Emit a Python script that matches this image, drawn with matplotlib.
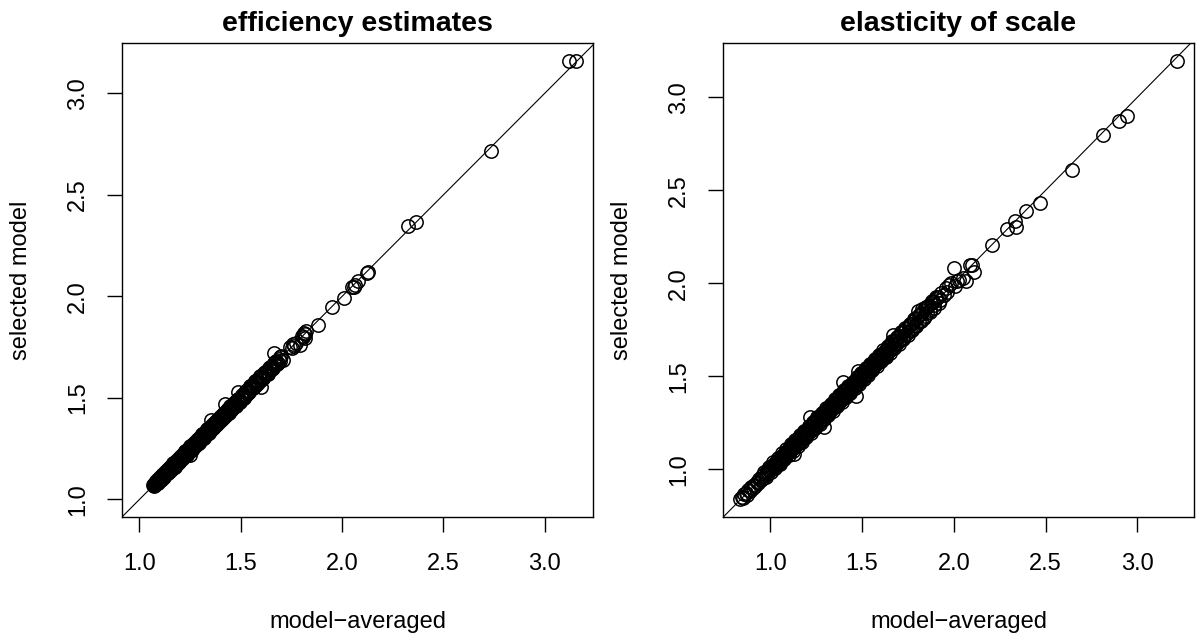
import numpy as np
import matplotlib.pyplot as plt

plt.rcParams['font.family'] = ['Liberation Sans', 'DejaVu Sans']

# (model-averaged, selected model) pairs for each panel
eff_pts = [
    (1.069, 1.071), (1.072, 1.076), (1.074, 1.073), (1.076, 1.080), (1.078, 1.077),
    (1.080, 1.084), (1.081, 1.079), (1.083, 1.086), (1.085, 1.082), (1.087, 1.090),
    (1.088, 1.085), (1.090, 1.093), (1.092, 1.089), (1.094, 1.097), (1.095, 1.092),
    (1.097, 1.100), (1.099, 1.096), (1.101, 1.104), (1.103, 1.099), (1.105, 1.108),
    (1.107, 1.103), (1.109, 1.112), (1.111, 1.107), (1.113, 1.117), (1.115, 1.111),
    (1.117, 1.121), (1.119, 1.114), (1.121, 1.125), (1.123, 1.118), (1.126, 1.131),
    (1.128, 1.124), (1.131, 1.136), (1.133, 1.128), (1.135, 1.140), (1.138, 1.133),
    (1.140, 1.146), (1.143, 1.138), (1.146, 1.151), (1.148, 1.141), (1.151, 1.156),
    (1.153, 1.147), (1.156, 1.160), (1.158, 1.152), (1.161, 1.166), (1.164, 1.157),
    (1.166, 1.171), (1.169, 1.163), (1.172, 1.176), (1.175, 1.168), (1.178, 1.183),
    (1.181, 1.173), (1.184, 1.189), (1.187, 1.180), (1.190, 1.195), (1.193, 1.186),
    (1.196, 1.201), (1.199, 1.192), (1.202, 1.210), (1.205, 1.198), (1.208, 1.214),
    (1.211, 1.204), (1.214, 1.219), (1.217, 1.209), (1.220, 1.226), (1.223, 1.215),
    (1.226, 1.232), (1.229, 1.221), (1.232, 1.236), (1.235, 1.227), (1.238, 1.243),
    (1.241, 1.232), (1.244, 1.250), (1.247, 1.218), (1.250, 1.255), (1.253, 1.246),
    (1.256, 1.262), (1.259, 1.251), (1.262, 1.268), (1.265, 1.257), (1.268, 1.273),
    (1.271, 1.263), (1.274, 1.280), (1.277, 1.270), (1.280, 1.285), (1.283, 1.275),
    (1.286, 1.291), (1.289, 1.281), (1.292, 1.298), (1.295, 1.287), (1.298, 1.303),
    (1.301, 1.293), (1.304, 1.309), (1.307, 1.299), (1.310, 1.316), (1.313, 1.305),
    (1.316, 1.321), (1.319, 1.311), (1.322, 1.328), (1.325, 1.316), (1.328, 1.333),
    (1.331, 1.322), (1.334, 1.339), (1.337, 1.328), (1.340, 1.345), (1.343, 1.335),
    (1.346, 1.351), (1.349, 1.340), (1.352, 1.357), (1.355, 1.392), (1.355, 1.347),
    (1.358, 1.362), (1.361, 1.352), (1.364, 1.370), (1.367, 1.358), (1.371, 1.376),
    (1.374, 1.365), (1.378, 1.383), (1.381, 1.372), (1.385, 1.390), (1.388, 1.379),
    (1.392, 1.397), (1.395, 1.386), (1.399, 1.404), (1.402, 1.393), (1.406, 1.411),
    (1.410, 1.400), (1.414, 1.419), (1.418, 1.407), (1.423, 1.471), (1.422, 1.426),
    (1.426, 1.416), (1.430, 1.435), (1.434, 1.424), (1.438, 1.443), (1.442, 1.432),
    (1.446, 1.451), (1.450, 1.440), (1.455, 1.461), (1.459, 1.449), (1.464, 1.470),
    (1.468, 1.458), (1.473, 1.479), (1.477, 1.468), (1.482, 1.488), (1.487, 1.527),
    (1.486, 1.476), (1.491, 1.497), (1.496, 1.486), (1.501, 1.507), (1.506, 1.497),
    (1.511, 1.516), (1.516, 1.507), (1.521, 1.527), (1.527, 1.516), (1.533, 1.538),
    (1.539, 1.529), (1.545, 1.551), (1.551, 1.542), (1.557, 1.563), (1.563, 1.553),
    (1.569, 1.575), (1.575, 1.566), (1.581, 1.587), (1.587, 1.578), (1.592, 1.598),
    (1.598, 1.552), (1.598, 1.589), (1.604, 1.610), (1.610, 1.600), (1.616, 1.622),
    (1.622, 1.612), (1.628, 1.634), (1.634, 1.624), (1.640, 1.646), (1.646, 1.636),
    (1.652, 1.658), (1.658, 1.648), (1.662, 1.720), (1.664, 1.670), (1.670, 1.660),
    (1.676, 1.682), (1.682, 1.672), (1.688, 1.694), (1.694, 1.684), (1.700, 1.705),
    (1.710, 1.686), (1.745, 1.752), (1.752, 1.745), (1.758, 1.764), (1.765, 1.757),
    (1.772, 1.771), (1.790, 1.760), (1.800, 1.806), (1.806, 1.800), (1.812, 1.821),
    (1.818, 1.814), (1.822, 1.830), (1.815, 1.795), (1.880, 1.860), (1.952, 1.950),
    (2.008, 1.992), (2.048, 2.045), (2.057, 2.048), (2.064, 2.058), (2.080, 2.075),
    (2.121, 2.113), (2.127, 2.120), (2.327, 2.349), (2.365, 2.365), (2.735, 2.714),
    (3.118, 3.162), (3.153, 3.158),
    (1.071, 1.068), (1.075, 1.083), (1.079, 1.072), (1.084, 1.091), (1.089, 1.081),
    (1.093, 1.101), (1.098, 1.090), (1.102, 1.110), (1.106, 1.098), (1.110, 1.118),
    (1.114, 1.105), (1.118, 1.126), (1.122, 1.112), (1.127, 1.135), (1.132, 1.123),
    (1.137, 1.145), (1.142, 1.131), (1.147, 1.156), (1.152, 1.142), (1.157, 1.166),
    (1.162, 1.152), (1.167, 1.177), (1.173, 1.162), (1.179, 1.188), (1.185, 1.174),
    (1.191, 1.200), (1.197, 1.185), (1.203, 1.213), (1.209, 1.197), (1.215, 1.225),
    (1.221, 1.209), (1.227, 1.237), (1.233, 1.221), (1.239, 1.249), (1.245, 1.232),
    (1.251, 1.261), (1.257, 1.244), (1.263, 1.273), (1.269, 1.256), (1.275, 1.285),
    (1.281, 1.268), (1.287, 1.297), (1.293, 1.280), (1.299, 1.309), (1.305, 1.292),
    (1.311, 1.321), (1.317, 1.304), (1.323, 1.333), (1.329, 1.316), (1.335, 1.345),
    (1.341, 1.328), (1.347, 1.357), (1.353, 1.340), (1.359, 1.369), (1.365, 1.352),
    (1.372, 1.382), (1.379, 1.366), (1.386, 1.396), (1.393, 1.380), (1.400, 1.410),
    (1.408, 1.395), (1.416, 1.426), (1.424, 1.411), (1.432, 1.442), (1.440, 1.427),
    (1.448, 1.458), (1.457, 1.444), (1.466, 1.476), (1.475, 1.462), (1.485, 1.494),
    (1.495, 1.482), (1.505, 1.514), (1.515, 1.502), (1.525, 1.534), (1.535, 1.522),
    (1.548, 1.557), (1.560, 1.548), (1.572, 1.581), (1.584, 1.572), (1.596, 1.606),
    (1.608, 1.596), (1.620, 1.630), (1.632, 1.620), (1.644, 1.654), (1.656, 1.644),
    (1.668, 1.679), (1.680, 1.668), (1.692, 1.700),
]

els_pts = [
    (0.837, 0.838), (0.845, 0.852), (0.852, 0.846), (0.858, 0.866), (0.866, 0.870),
    (0.872, 0.864), (0.880, 0.889), (0.888, 0.882), (0.895, 0.903), (0.903, 0.898),
    (0.910, 0.918), (0.918, 0.911), (0.925, 0.934), (0.932, 0.926), (0.940, 0.948),
    (0.947, 0.940), (0.955, 0.962), (0.962, 0.955), (0.968, 0.976), (0.975, 0.968),
    (0.981, 0.990), (0.988, 0.981), (0.994, 1.003), (1.000, 0.994), (1.005, 1.013),
    (1.010, 1.001), (1.015, 1.024), (1.020, 1.012), (1.025, 1.033), (1.030, 1.021),
    (1.035, 1.044), (1.040, 1.031), (1.045, 1.052), (1.050, 1.040), (1.054, 1.063),
    (1.058, 1.048), (1.062, 1.071), (1.066, 1.057), (1.070, 1.079), (1.074, 1.066),
    (1.078, 1.088), (1.082, 1.073), (1.086, 1.095), (1.090, 1.081), (1.094, 1.104),
    (1.098, 1.089), (1.102, 1.112), (1.106, 1.096), (1.110, 1.121), (1.114, 1.104),
    (1.118, 1.128), (1.122, 1.112), (1.127, 1.081), (1.126, 1.137), (1.130, 1.120),
    (1.134, 1.145), (1.138, 1.128), (1.142, 1.153), (1.146, 1.136), (1.150, 1.161),
    (1.154, 1.144), (1.158, 1.170), (1.162, 1.151), (1.166, 1.178), (1.170, 1.160),
    (1.174, 1.186), (1.178, 1.168), (1.182, 1.194), (1.186, 1.176), (1.190, 1.202),
    (1.194, 1.183), (1.198, 1.210), (1.202, 1.190), (1.206, 1.218), (1.210, 1.198),
    (1.214, 1.226), (1.217, 1.279), (1.218, 1.205), (1.222, 1.234), (1.226, 1.213),
    (1.230, 1.243), (1.234, 1.222), (1.238, 1.251), (1.242, 1.230), (1.246, 1.260),
    (1.250, 1.238), (1.254, 1.268), (1.258, 1.246), (1.262, 1.276), (1.266, 1.254),
    (1.270, 1.284), (1.274, 1.262), (1.278, 1.292), (1.282, 1.270), (1.286, 1.300),
    (1.290, 1.229), (1.290, 1.278), (1.294, 1.309), (1.298, 1.286), (1.302, 1.316),
    (1.306, 1.294), (1.310, 1.324), (1.314, 1.302), (1.318, 1.333), (1.322, 1.310),
    (1.326, 1.341), (1.330, 1.318), (1.334, 1.349), (1.338, 1.327), (1.342, 1.357),
    (1.346, 1.335), (1.350, 1.365), (1.354, 1.343), (1.358, 1.373), (1.362, 1.351),
    (1.366, 1.381), (1.370, 1.359), (1.374, 1.389), (1.378, 1.367), (1.382, 1.397),
    (1.386, 1.375), (1.390, 1.405), (1.394, 1.383), (1.398, 1.469), (1.398, 1.413),
    (1.402, 1.391), (1.406, 1.421), (1.410, 1.399), (1.414, 1.429), (1.418, 1.407),
    (1.422, 1.437), (1.426, 1.415), (1.430, 1.445), (1.434, 1.423), (1.438, 1.453),
    (1.442, 1.431), (1.446, 1.461), (1.450, 1.439), (1.454, 1.469), (1.458, 1.447),
    (1.466, 1.396), (1.462, 1.477), (1.466, 1.455), (1.470, 1.485), (1.474, 1.463),
    (1.478, 1.493), (1.480, 1.531), (1.482, 1.471), (1.486, 1.501), (1.490, 1.479),
    (1.494, 1.509), (1.498, 1.487), (1.502, 1.517), (1.506, 1.495), (1.510, 1.525),
    (1.514, 1.503), (1.518, 1.533), (1.522, 1.511), (1.526, 1.541), (1.530, 1.519),
    (1.534, 1.549), (1.538, 1.527), (1.542, 1.557), (1.546, 1.535), (1.550, 1.565),
    (1.554, 1.543), (1.558, 1.573), (1.562, 1.551), (1.566, 1.581), (1.570, 1.559),
    (1.574, 1.589), (1.578, 1.567), (1.582, 1.597), (1.586, 1.575), (1.590, 1.605),
    (1.594, 1.583), (1.598, 1.613), (1.603, 1.591), (1.608, 1.622), (1.613, 1.601),
    (1.618, 1.633), (1.623, 1.611), (1.628, 1.643), (1.633, 1.621), (1.638, 1.654),
    (1.643, 1.631), (1.648, 1.664), (1.653, 1.641), (1.658, 1.675), (1.663, 1.651),
    (1.667, 1.721), (1.668, 1.685), (1.673, 1.661), (1.679, 1.696), (1.685, 1.672),
    (1.691, 1.707), (1.697, 1.684), (1.703, 1.719), (1.709, 1.696), (1.715, 1.731),
    (1.721, 1.708), (1.727, 1.743), (1.733, 1.720), (1.740, 1.756), (1.747, 1.733),
    (1.754, 1.770), (1.761, 1.746), (1.768, 1.783), (1.775, 1.760), (1.782, 1.797),
    (1.789, 1.774), (1.796, 1.811), (1.804, 1.850), (1.812, 1.790), (1.820, 1.835),
    (1.828, 1.860), (1.836, 1.815), (1.842, 1.865), (1.848, 1.871), (1.854, 1.842),
    (1.860, 1.880), (1.868, 1.858), (1.876, 1.893), (1.885, 1.900), (1.893, 1.884),
    (1.902, 1.918), (1.912, 1.928), (1.922, 1.912), (1.932, 1.950), (1.944, 1.935),
    (1.955, 1.975), (1.965, 1.952), (1.975, 1.990), (1.985, 2.000), (2.000, 2.085),
    (2.005, 1.985), (2.015, 2.010), (2.030, 2.020), (2.048, 2.030), (2.065, 2.012),
    (2.087, 2.099), (2.097, 2.100), (2.109, 2.063), (2.210, 2.204), (2.292, 2.292),
    (2.332, 2.337), (2.341, 2.301), (2.395, 2.388), (2.467, 2.432), (2.645, 2.607),
    (2.812, 2.798), (2.902, 2.874), (2.942, 2.901), (3.214, 3.198),
    (0.965, 0.985), (0.978, 0.958), (0.992, 1.012), (1.004, 0.984), (1.017, 1.040),
    (1.028, 1.006), (1.041, 1.063), (1.052, 1.030), (1.064, 1.088), (1.076, 1.054),
    (1.088, 1.111), (1.100, 1.076), (1.112, 1.136), (1.124, 1.100), (1.136, 1.160),
    (1.148, 1.124), (1.160, 1.184), (1.172, 1.148), (1.184, 1.208), (1.196, 1.172),
    (1.208, 1.232), (1.220, 1.196), (1.232, 1.256), (1.244, 1.220), (1.256, 1.280),
    (1.268, 1.244), (1.280, 1.304), (1.292, 1.268), (1.304, 1.328), (1.316, 1.292),
    (1.328, 1.352), (1.340, 1.316), (1.352, 1.376), (1.364, 1.340), (1.376, 1.400),
    (1.388, 1.364), (1.400, 1.424), (1.412, 1.388), (1.424, 1.448), (1.436, 1.412),
    (1.448, 1.472), (1.460, 1.436), (1.472, 1.496), (1.484, 1.460), (1.496, 1.520),
    (1.508, 1.484), (1.520, 1.544), (1.532, 1.508), (1.544, 1.568), (1.556, 1.532),
    (1.568, 1.592), (1.580, 1.556), (1.592, 1.616), (1.604, 1.580), (1.616, 1.640),
    (1.628, 1.604), (1.640, 1.664), (1.652, 1.628), (1.664, 1.688), (1.676, 1.652),
    (1.688, 1.712), (1.700, 1.676), (1.712, 1.736), (1.724, 1.700), (1.736, 1.760),
    (1.748, 1.724), (1.760, 1.784), (1.772, 1.748), (1.784, 1.808), (1.796, 1.772),
    (1.808, 1.830), (1.820, 1.797), (1.832, 1.852), (1.844, 1.822), (1.856, 1.874),
    (1.868, 1.846), (1.880, 1.905), (1.892, 1.870), (1.905, 1.925), (1.918, 1.895),
]

titles = ['efficiency estimates', 'elasticity of scale']
ticks = [1.0, 1.5, 2.0, 2.5, 3.0]
tick_labels = ['1.0', '1.5', '2.0', '2.5', '3.0']

fig = plt.figure(figsize=(12, 6.38), dpi=100)
ax1 = fig.add_axes([0.1017, 0.1897, 0.3925, 0.7429])
ax2 = fig.add_axes([0.6025, 0.1897, 0.3925, 0.7429])

for ax, pts, title in zip([ax1, ax2], [eff_pts, els_pts], titles):
    xs, ys = np.array(pts).T
    ax.plot(xs, ys, 'o', mfc='none', mec='black', ms=9.6, mew=1.1)
    ax.margins(0.04)
    ax.axline((1, 1), slope=1, color='black', lw=0.8)

    ax.set_xticks(ticks, tick_labels)
    ax.set_yticks(ticks, tick_labels)
    ax.tick_params(direction='out', length=10.8, width=1.0, labelsize=17,
                   pad=15)
    ax.tick_params(axis='y', labelrotation=90, pad=13)
    for lab in ax.get_yticklabels():
        lab.set_va('center')
    for sp in ax.spines.values():
        sp.set_linewidth(1.0)

    ax.set_title(title, fontsize=20.5, fontweight='bold', pad=9)
    ax.set_xlabel('model\u2212averaged', fontsize=17, va='center')
    ax.set_ylabel('selected model', fontsize=17, va='center')
    ax.xaxis.set_label_coords(0.5, -0.2215)
    ax.yaxis.set_label_coords(-0.2144, 0.5)

fig.savefig('out.png', dpi=100)
